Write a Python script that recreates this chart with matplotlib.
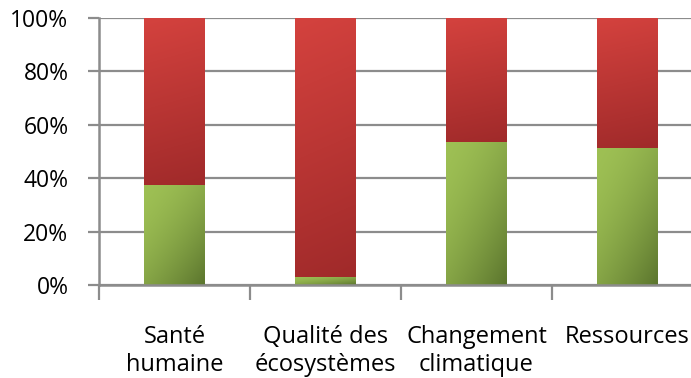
import numpy as np
import matplotlib.pyplot as plt
from matplotlib.ticker import PercentFormatter, FixedLocator

plt.rcParams['font.family'] = ['Open Sans', 'DejaVu Sans']

# Share of each impact category (green = bottom part, red = remainder up to 100%)
categories = ["Santé\nhumaine", "Qualité des\nécosystèmes", "Changement\nclimatique", "Ressources"]
green_share = [37.3, 3.0, 53.5, 51.2]
red_share = [100 - g for g in green_share]

bar_width = 0.4
gray = "#8c8c8c"


def gradient_bar(ax, x, bottom, height, light_rgb, dark_rgb, wy=1.0, wx=0.0, power=1.0):
    # blend from light (top-left) to dark (bottom / bottom-right)
    ny, nx = 64, 32
    t = np.linspace(0, 1, ny)[:, None, None]
    s = np.linspace(0, 1, nx)[None, :, None]
    w = np.clip((wy * t + wx * s) / (wy + wx), 0, 1) ** power
    light = np.array(light_rgb)[None, None, :] / 255
    dark = np.array(dark_rgb)[None, None, :] / 255
    img = np.clip(light + (dark - light) * w, 0, 1)
    ax.imshow(img, extent=[x - bar_width / 2, x + bar_width / 2, bottom, bottom + height],
              aspect="auto", origin="upper", interpolation="bilinear", zorder=3)


fig = plt.figure(figsize=(6.91, 3.78), dpi=100)
ax = fig.add_axes([0.1433, 0.246, 0.874, 0.7077])

x = np.arange(len(categories))
for i in x:
    gradient_bar(ax, i, 0, green_share[i], (158, 192, 84), (92, 118, 46), wy=0.55, wx=0.45, power=1.6)
    gradient_bar(ax, i, green_share[i], red_share[i], (212, 66, 62), (160, 42, 42), wy=1.0, wx=0.1)

ax.set_xlim(-0.5, len(categories) - 0.5)
ax.set_ylim(0, 100)

ax.yaxis.set_major_locator(FixedLocator([0, 20, 40, 60, 80, 100]))
ax.yaxis.set_major_formatter(PercentFormatter(decimals=0))
ax.grid(axis="y", color=gray, linewidth=1.6, zorder=1)
ax.set_axisbelow(True)

# category labels centred, tick marks on the boundaries
ax.set_xticks(x)
ax.set_xticklabels(categories, fontsize=17, linespacing=1.22)
ax.set_xticks(np.arange(len(categories) + 1) - 0.5, minor=True)
ax.tick_params(axis="x", which="major", length=0, pad=29)
ax.tick_params(axis="x", which="minor", length=11, width=1.6, color=gray)
ax.tick_params(axis="y", length=8, width=1.6, color=gray, labelsize=16.5, pad=14)

for side in ("top", "right"):
    ax.spines[side].set_visible(False)
for side in ("left", "bottom"):
    ax.spines[side].set_color(gray)
    ax.spines[side].set_linewidth(1.8)
    ax.spines[side].set_zorder(4)

fig.savefig("out.png", dpi=100)
